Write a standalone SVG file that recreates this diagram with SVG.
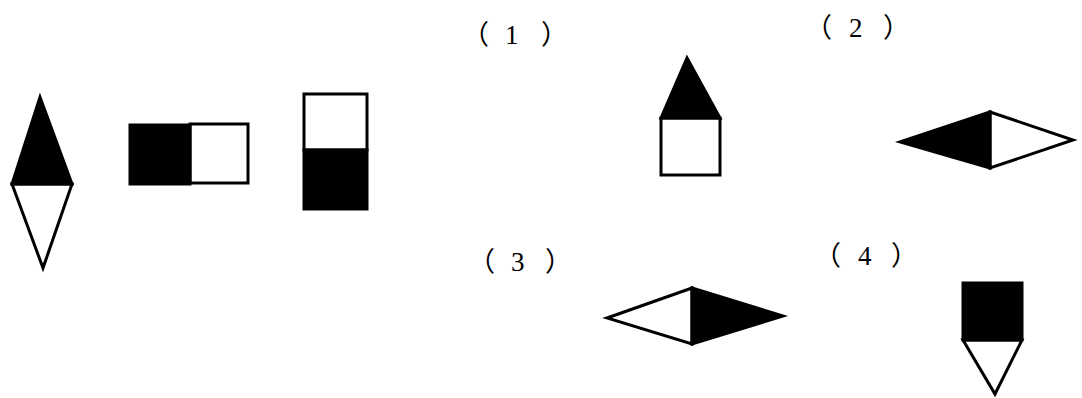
<svg xmlns="http://www.w3.org/2000/svg" width="1082" height="398" viewBox="0 0 1082 398">
<style>
.w{fill:#fff;stroke:#000;stroke-width:3;stroke-linejoin:miter}
.b{fill:#000;stroke:#000;stroke-width:3}
.t{font-family:"Liberation Serif","Noto Sans CJK SC",serif;font-size:27px;fill:#000}
</style>
<rect width="1082" height="398" fill="#fff"/>
<g id="diamond-vertical">
<polygon class="w" points="12,184 72,184 43,268"/>
<polygon class="b" points="12,184 72,184 40,97"/>
</g>
<g id="rect-horizontal">
<rect class="w" x="190" y="124" width="58" height="59"/>
<rect class="b" x="130" y="125" width="60" height="59"/>
</g>
<g id="rect-vertical">
<rect class="w" x="304" y="94" width="63" height="56"/>
<rect class="b" x="304" y="150" width="63" height="59"/>
</g>
<g id="label-1"><text class="t" x="462 505 541" y="44">（1）</text></g>
<g id="label-2"><text class="t" x="805 849 883" y="37">（2）</text></g>
<g id="label-3"><text class="t" x="468 511 545" y="271">（3）</text></g>
<g id="label-4"><text class="t" x="814 858 891" y="265">（4）</text></g>
<g id="option-1">
<rect class="w" x="661" y="118" width="59" height="57"/>
<polygon class="b" points="661,118 720,118 687,58"/>
</g>
<g id="option-2">
<polygon class="w" points="990,112 1073,140 990,168"/>
<polygon class="b" points="990,112 900,142 990,168"/>
</g>
<g id="option-3">
<polygon class="w" points="692,288 607,318 692,344"/>
<polygon class="b" points="692,288 783,316 692,344"/>
</g>
<g id="option-4">
<polygon class="w" points="963,340 1022,340 995,394"/>
<rect class="b" x="963" y="283" width="59" height="57"/>
</g>
<g id="connectors"/>
</svg>
